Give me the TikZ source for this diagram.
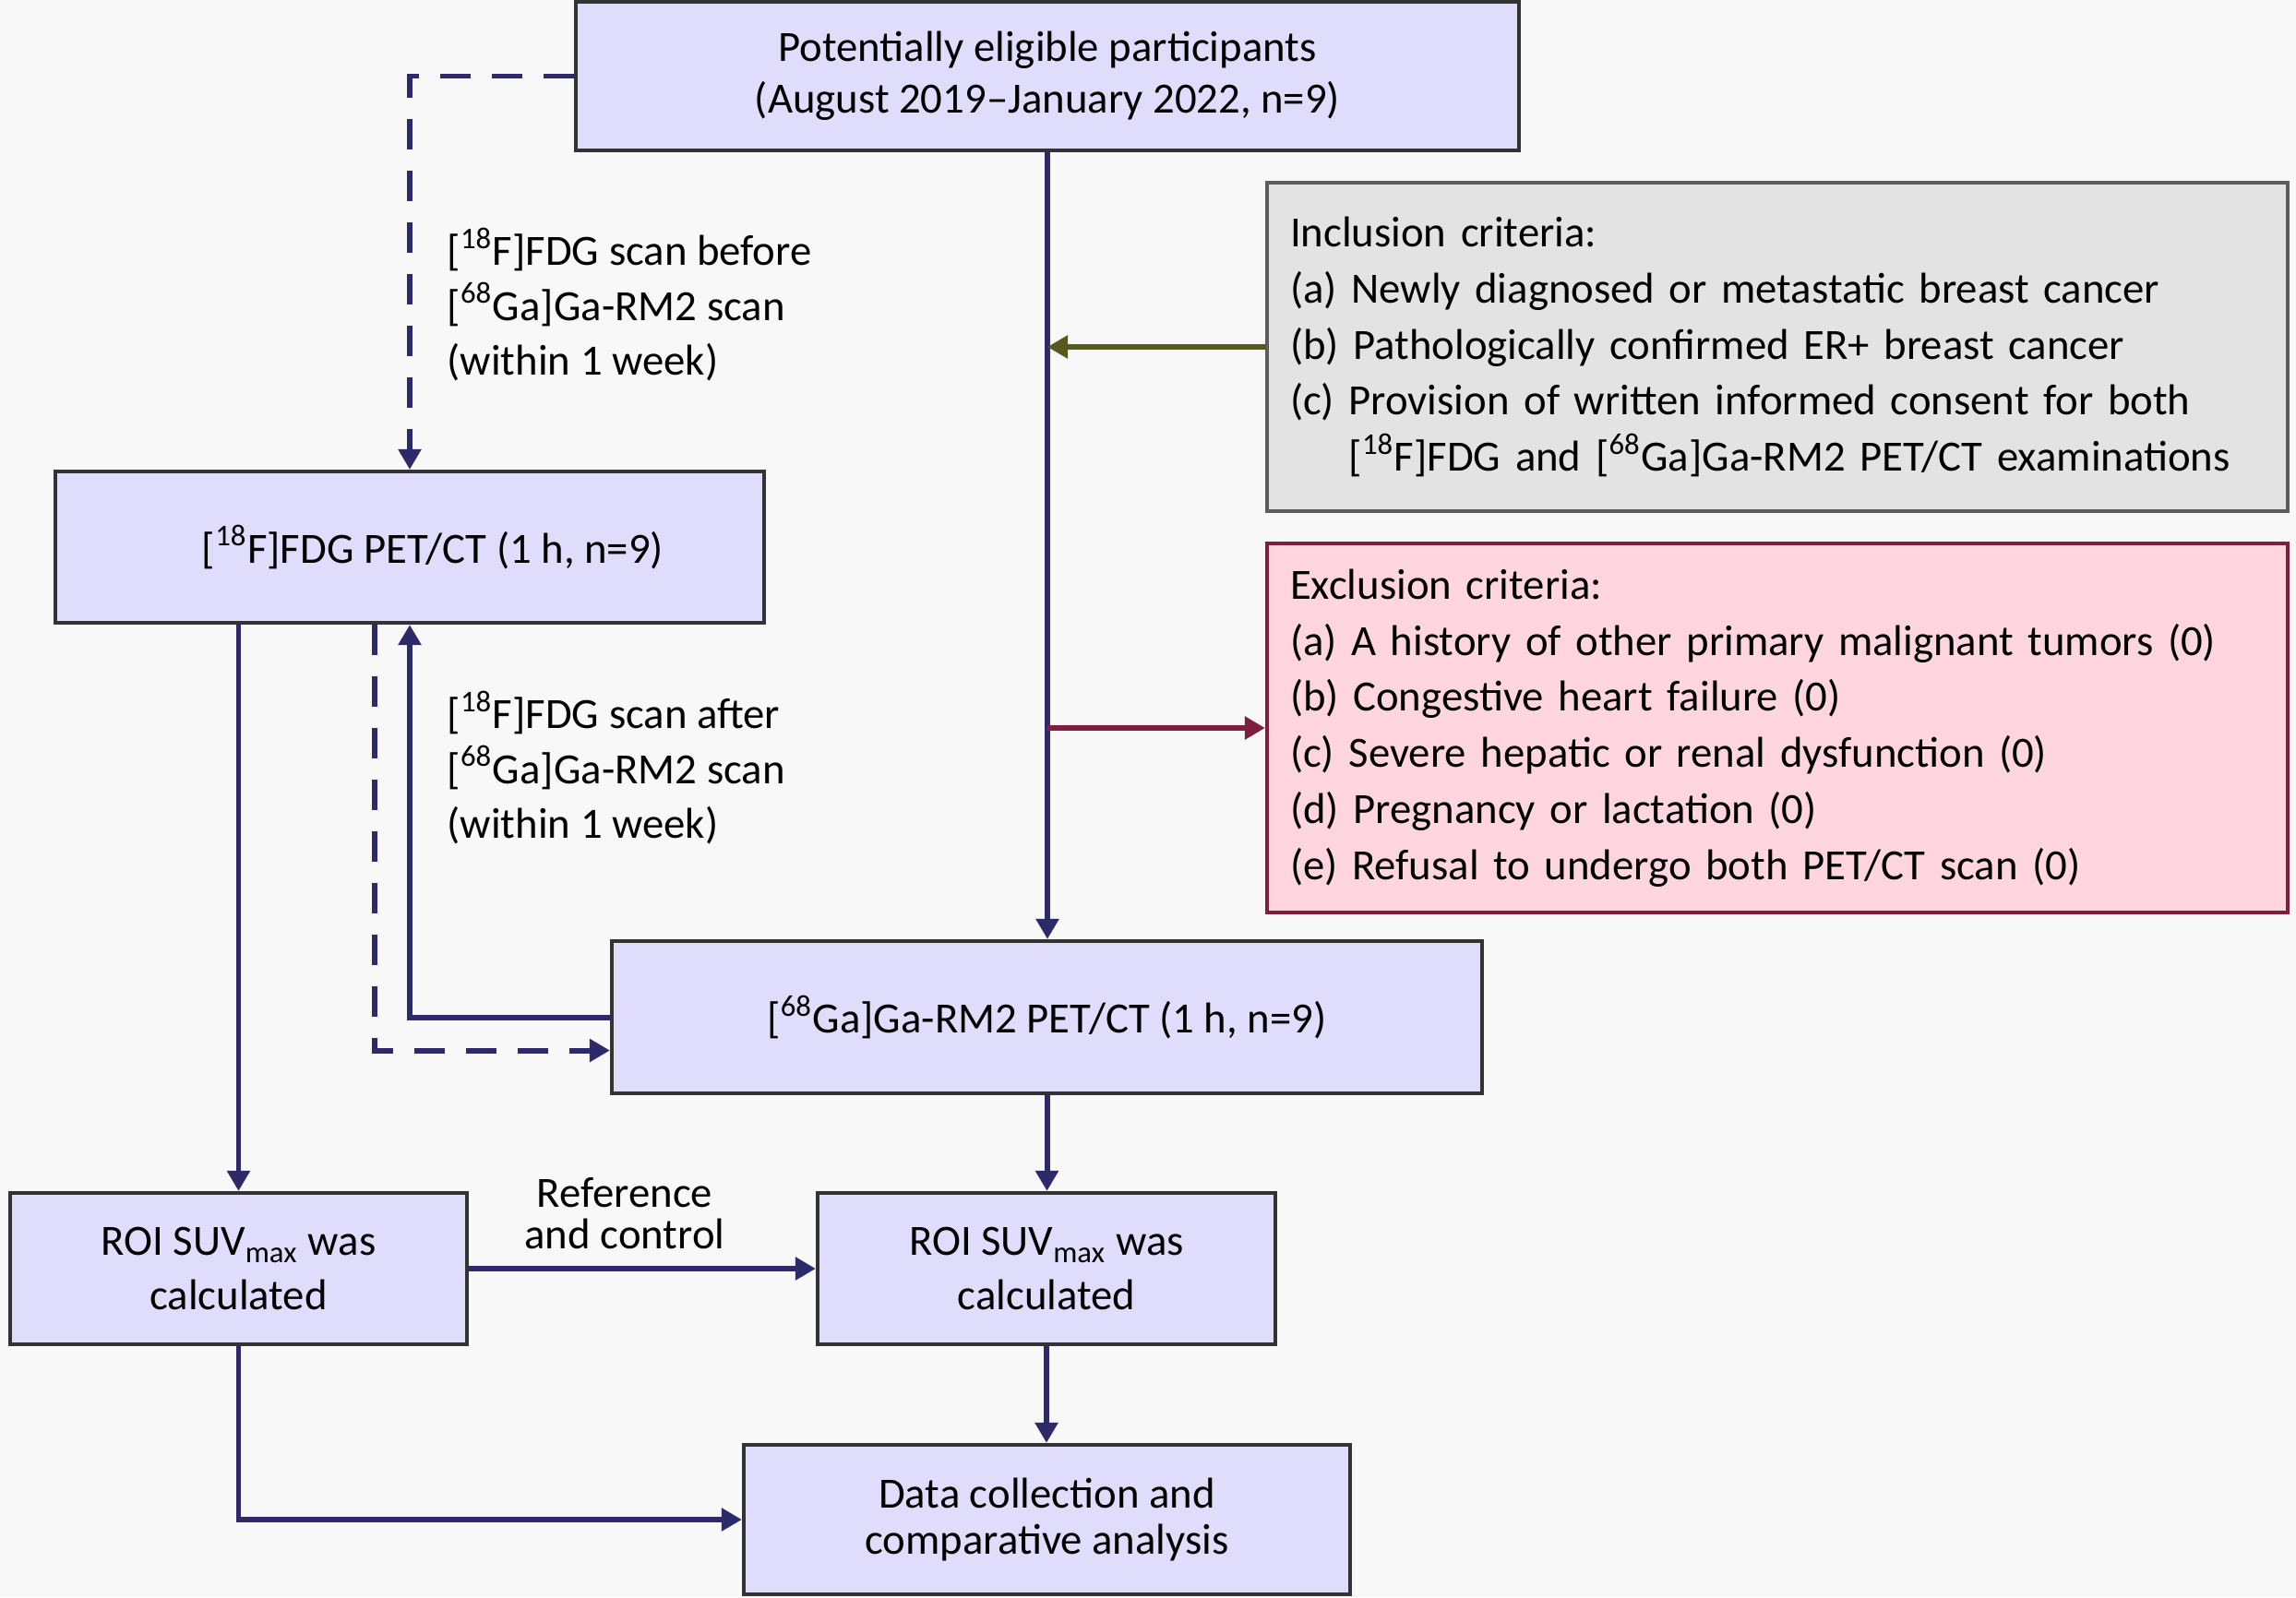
\documentclass[tikz,border=0pt]{standalone}
\usepackage{fontspec}
\setmainfont{Carlito}
\usetikzlibrary{arrows.meta}
\definecolor{bgcol}{HTML}{F8F8F8}
\definecolor{boxfill}{HTML}{E0DCFC}
\definecolor{boxline}{HTML}{333333}
\definecolor{inclfill}{HTML}{E3E3E3}
\definecolor{inclline}{HTML}{565A1E}
\definecolor{exclfill}{HTML}{FFD6E0}
\definecolor{exclline}{HTML}{7E1D3E}
\definecolor{flowline}{HTML}{2E2A6A}

\begin{document}
\begin{tikzpicture}[
  >={Triangle[length = 0.22cm, width = 0.24cm]},
  font = \fontsize{13.3pt}{17.3pt}\selectfont,
  flowbox/.style = {rectangle, draw = boxline, line width = 1.2pt, fill = boxfill, align = center, inner sep = 0pt},
  critbox/.style = {rectangle, line width = 1.2pt, align = left, inner xsep = 0.25cm, inner ysep = 0pt, text width = 10.56cm, minimum width = 11.06cm},
  flow/.style = {draw = flowline, line width = 1.7pt},
  dashflow/.style = {flow, dash pattern = on 0.33cm off 0.23cm},
  scanlabel/.style = {anchor = west, align = left, inner sep = 0pt, font = \fontsize{13.3pt}{17pt}\selectfont}
]
\fill[bgcol] (0,0) rectangle (24.88,-17.31);
\useasboundingbox (0,0) rectangle (24.88,-17.31);

% boxes
\draw (11.35,-0.825) node[flowbox, name = top, minimum width = 10.22cm, minimum height = 1.61cm, font = \fontsize{13.3pt}{15.9pt}\selectfont]{Potentially eligible participants\\(August 2019--January 2022, n=9)};
\draw (19.26,-3.76) node[critbox, name = incl, fill = inclfill, draw = boxline!80, minimum height = 3.56cm]{Inclusion criteria:\\(a) Newly diagnosed or metastatic breast cancer\\(b) Pathologically confirmed ER+ breast cancer\\(c) Provision of written informed consent for both\\\hphantom{(c)~}[\textsuperscript{18}F]FDG and [\textsuperscript{68}Ga]Ga-RM2 PET/CT examinations};
\draw (19.26,-7.89) node[critbox, name = excl, fill = exclfill, draw = exclline, minimum height = 4.00cm]{Exclusion criteria:\\(a) A history of other primary malignant tumors (0)\\(b) Congestive heart failure (0)\\(c) Severe hepatic or renal dysfunction (0)\\(d) Pregnancy or lactation (0)\\(e) Refusal to undergo both PET/CT scan (0)};
\draw (4.44,-5.93) node[flowbox, name = fdg, minimum width = 7.68cm, minimum height = 1.64cm]{\hspace*{0.5cm}[\textsuperscript{18}F]FDG PET/CT (1 h, n=9)};
\draw (11.345,-11.025) node[flowbox, name = ga, minimum width = 9.43cm, minimum height = 1.65cm]{[\textsuperscript{68}Ga]Ga-RM2 PET/CT (1 h, n=9)};
\draw (2.585,-13.75) node[flowbox, name = roil, minimum width = 4.95cm, minimum height = 1.64cm, font = \fontsize{13.3pt}{16.8pt}\selectfont]{ROI SUV\textsubscript{max} was\\calculated};
\draw (11.34,-13.75) node[flowbox, name = roir, minimum width = 4.96cm, minimum height = 1.64cm, font = \fontsize{13.3pt}{16.8pt}\selectfont]{ROI SUV\textsubscript{max} was\\calculated};
\draw (11.345,-16.47) node[flowbox, name = data, minimum width = 6.57cm, minimum height = 1.62cm, font = \fontsize{13.3pt}{14.2pt}\selectfont]{Data collection and\\comparative analysis};

% labels
\draw (4.84,-3.30) node[scanlabel, name = beforelbl]{[\textsuperscript{18}F]FDG scan before\\{}[\textsuperscript{68}Ga]Ga-RM2 scan\\(within 1 week)};
\draw (4.84,-8.32) node[scanlabel, name = afterlbl]{[\textsuperscript{18}F]FDG scan after\\{}[\textsuperscript{68}Ga]Ga-RM2 scan\\(within 1 week)};
\draw (6.77,-13.15) node[align = center, inner sep = 0pt, name = reflbl, font = \fontsize{13.3pt}{12.8pt}\selectfont]{Reference\\and control};

% connectors
\draw[flow, ->] (top.south) -- (top.south |- ga.north);
\draw[draw = inclline, line width = 1.7pt, ->] (incl.west) -- (incl.west -| top.south);
\draw[draw = exclline, line width = 1.7pt, ->] (excl.west -| top.south) -- (excl.west);
\draw[dashflow, ->] (top.west) -| (fdg.north);
\draw[flow, ->] (fdg.south -| roil.north) -- (roil.north);
\draw[dashflow, ->] ([xshift = -0.38cm]fdg.south) |- ([yshift = -0.36cm]ga.west);
\draw[flow, ->] (ga.west) -| (fdg.south);
\draw[flow, ->] (ga) -- (ga |- roir.north);
\draw[flow, ->] (roil) -- (roir);
\draw[flow, ->] (roir) -- (roir |- data.north);
\draw[flow, ->] (roil.south) |- (data.west);
\end{tikzpicture}
\end{document}
